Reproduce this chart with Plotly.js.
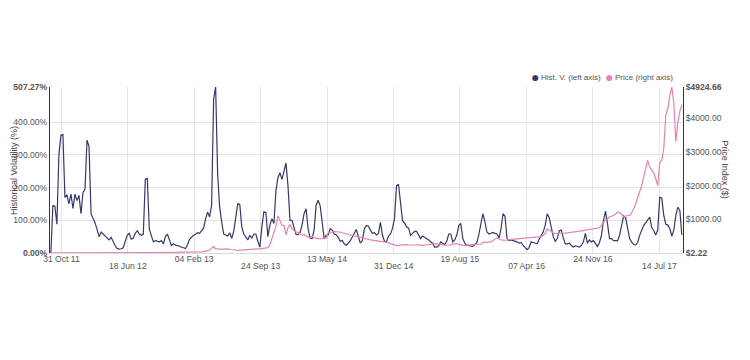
<!DOCTYPE html>
<html><head><meta charset="utf-8">
<script src="https://cdn.plot.ly/plotly-3.0.1.min.js"></script>
<style>html,body{margin:0;padding:0;background:#fff}#c{width:750px;height:360px}</style>
</head><body><div id="c"></div>
<script>
// weekly samples starting at this date
const startDate = '2011-09-24';
const stepDays = 7;

const histVol = [
0,145,143,88,300,360,362,170,178,150,
180,136,180,160,176,120,185,195,345,325,
120,108,92,72,50,64,58,52,44,40,
48,32,22,14,12,13,16,35,54,60,
42,45,60,68,58,54,57,225,228,72,
50,34,38,36,34,38,28,50,58,40,
23,28,24,23,20,18,16,14,25,42,
49,54,57,62,60,69,76,105,125,110,
146,470,507.27,240,140,95,58,55,52,62,
45,66,105,150,148,80,58,47,40,54,
45,58,58,36,18,80,126,124,50,85,
105,90,190,230,245,225,255,275,205,100,
100,74,57,56,62,85,120,135,74,46,
44,70,146,161,145,95,44,54,55,74,
70,58,56,48,36,38,28,23,30,38,
49,60,72,50,30,38,74,84,82,70,
60,62,55,60,94,55,36,34,52,58,
75,105,205,210,150,98,92,80,76,54,
60,66,66,56,44,52,48,46,40,34,
30,18,18,22,34,30,26,36,58,58,
34,40,55,84,90,44,30,24,23,22,
20,26,32,58,95,120,95,64,58,60,
63,60,58,46,74,120,112,44,38,40,
38,38,34,30,32,23,16,10,16,34,
32,30,28,42,52,64,85,120,108,78,
50,36,44,68,70,46,28,28,30,23,
18,22,20,18,23,34,60,30,40,34,
38,28,20,32,54,100,128,90,44,44,
38,38,37,54,85,113,108,78,44,34,
26,25,32,54,72,84,92,100,110,78,
69,55,70,170,168,115,88,86,74,52,
70,115,140,130,55
];

const price = [
5.1,4.8,4.0,3.4,3.2,3.1,3.0,2.6,2.22,2.8,
3.0,3.2,3.9,4.2,5.3,6.8,6.6,6.4,5.8,5.6,
5.9,5.4,4.5,4.9,4.9,4.8,4.9,4.7,4.9,5.0,
4.9,5.1,5.0,5.1,5.1,5.2,5.3,5.6,6.2,6.7,
6.5,6.7,7.5,8.9,8.9,9.2,10.8,11.0,11.0,10.5,
10.5,11.0,12.0,12.2,12.4,11.5,12.0,11.8,11.5,10.8,
10.9,11.0,12.2,12.0,12.3,12.6,13.3,13.5,14.2,16.5,
17.5,20.5,23.5,27,29.8,34,45,47,70,92,
143,200,120,135,112,117,123,133,122,105,
100,108,94,70,97,90,95,104,103,105,
120,135,125,127,126,133,128,135,160,250,
425,620,800,1100,950,820,820,540,750,850,
720,670,620,620,570,524,550,500,475,470,
500,450,430,430,425,430,460,440,600,623,
625,640,640,630,620,603,590,575,560,535,
524,510,500,480,475,450,430,425,410,390,
380,370,375,360,350,340,330,320,310,280,
260,225,220,230,240,250,255,250,240,235,
230,240,245,235,225,230,240,250,255,260,
280,285,280,270,250,230,230,240,235,240,
270,280,270,260,240,230,230,235,235,240,
240,245,255,250,265,320,330,310,326,340,
360,420,440,430,390,380,375,380,400,405,
410,415,420,425,425,430,440,445,455,455,
460,465,470,480,490,530,580,720,680,620,
600,580,580,570,575,580,590,600,605,610,
615,625,630,650,660,670,675,690,700,710,
715,722,735,750,820,930,1000,1010,1068,1090,
1130,1150,1220,1200,1150,1080,1100,1100,1117,1190,
1300,1450,1640,1810,2000,2250,2550,2750,2550,2480,
2380,2205,2000,2700,2750,3100,4100,4280,4678,4924.66,
4450,3300,3887,4200,4400
];

const xTickDatesUpper = ['2011-10-31','2013-02-04','2014-05-13','2015-08-19','2016-11-24'];
const xTickLabelsUpper = ['31 Oct 11','04 Feb 13','13 May 14','19 Aug 15','24 Nov 16'];
const xTickDatesLower = ['2012-06-18','2013-09-24','2014-12-31','2016-04-07','2017-07-14'];
const xTickLabelsLower = ['18 Jun 12','24 Sep 13','31 Dec 14','07 Apr 16','14 Jul 17'];

const volTickVals = [0,100,200,300,400,507.27];
const volTickText = ['<b>0.00%</b>','100.00%','200.00%','300.00%','400.00%','<b>507.27%</b>'];
const priceTickVals = [2.22,1000,2000,3000,4000,4924.66];
const priceTickText = ['<b>$2.22</b>','$1000.00','$2000.00','$3000.00','$4000.00','<b>$4924.66</b>'];

const seriesNames = ['Hist. V. (left axis)','Price (right axis)'];
const volColor = '#35386c';
const priceColor = '#e882b3';

function buildDates(start, n, step){
  const out = [];
  const t0 = Date.parse(start + 'T00:00:00Z');
  for (let i = 0; i < n; i++){
    out.push(new Date(t0 + i*step*86400000).toISOString().slice(0,10));
  }
  return out;
}
const dates = buildDates(startDate, histVol.length, stepDays);
const xRange = ['2011-09-21','2017-10-04'];

const traces = [
  {x: dates, y: histVol, type:'scatter', mode:'lines', name:seriesNames[0],
   line:{color:volColor, width:1.2}, xaxis:'x', yaxis:'y', hoverinfo:'skip'},
  {x: dates, y: price, type:'scatter', mode:'lines', name:seriesNames[1],
   line:{color:priceColor, width:1.2}, xaxis:'x', yaxis:'y2', hoverinfo:'skip'},
  // carrier for the second (staggered) row of date labels; draws nothing
  {x: xRange, y: [null, null], type:'scatter', mode:'lines', xaxis:'x2', yaxis:'y',
   hoverinfo:'skip', showlegend:false, line:{width:0}}
];

const FONT = 'Liberation Sans, Arial, sans-serif';
const tickFont = {family:FONT, size:8.6, color:'#555'};

const layout = {
  width:750, height:360,
  margin:{l:50, r:67, t:87, b:107, pad:0},
  paper_bgcolor:'#fff', plot_bgcolor:'#fff',
  showlegend:false,
  font:{family:FONT, size:9, color:'#444'},
  xaxis:{
    type:'date', range:xRange,
    tickmode:'array', tickvals:xTickDatesUpper, ticktext:xTickLabelsUpper,
    tickangle:0, tickfont:tickFont, ticks:'', ticklabelstandoff:-2,
    showgrid:true, gridcolor:'#e6e6e6', gridwidth:1,
    showline:true, linecolor:'#dcdcdc', linewidth:1, zeroline:false
  },
  xaxis2:{
    type:'date', range:xRange, overlaying:'x', anchor:'y', side:'bottom',
    tickmode:'array', tickvals:xTickDatesLower, ticktext:xTickLabelsLower,
    tickangle:0, tickfont:tickFont, ticks:'', ticklabelstandoff:6,
    showgrid:true, gridcolor:'#e6e6e6', gridwidth:1,
    showline:false, zeroline:false
  },
  yaxis:{
    range:[0,507.27], tickmode:'array', tickvals:volTickVals, ticktext:volTickText,
    tickfont:tickFont, ticks:'', showgrid:true, gridcolor:'#e3e3e3', gridwidth:1,
    showline:true, linecolor:'#333', linewidth:1, zeroline:false
  },
  yaxis2:{
    range:[2.22,4924.66], overlaying:'y', side:'right',
    tickmode:'array', tickvals:priceTickVals, ticktext:priceTickText,
    tickfont:tickFont, ticks:'', showgrid:false,
    showline:true, linecolor:'#333', linewidth:1, zeroline:false
  },
  annotations:[
    {xref:'paper', yref:'paper', x:-0.057, y:0.5, text:'Historical Volatility (%)', textangle:-90,
     showarrow:false, font:{size:9, color:'#444'}, xanchor:'center', yanchor:'middle'},
    {xref:'paper', yref:'paper', x:1.066, y:0.5, text:'Price Index ($)', textangle:90,
     showarrow:false, font:{size:9, color:'#444'}, xanchor:'center', yanchor:'middle'},
    {xref:'paper', yref:'paper', x:0.7657, y:1.063, xanchor:'center', yanchor:'middle', showarrow:false,
     text:'●', font:{size:14, color:volColor}},
    {xref:'paper', yref:'paper', x:0.772, y:1.06, xanchor:'left', yanchor:'middle', showarrow:false,
     text:seriesNames[0], font:{size:8, color:'#555'}},
    {xref:'paper', yref:'paper', x:0.8831, y:1.063, xanchor:'center', yanchor:'middle', showarrow:false,
     text:'●', font:{size:14, color:priceColor}},
    {xref:'paper', yref:'paper', x:0.890, y:1.06, xanchor:'left', yanchor:'middle', showarrow:false,
     text:seriesNames[1], font:{size:8, color:'#555'}}
  ]
};

Plotly.newPlot('c', traces, layout, {displayModeBar:false, staticPlot:true});
</script>
</body></html>
